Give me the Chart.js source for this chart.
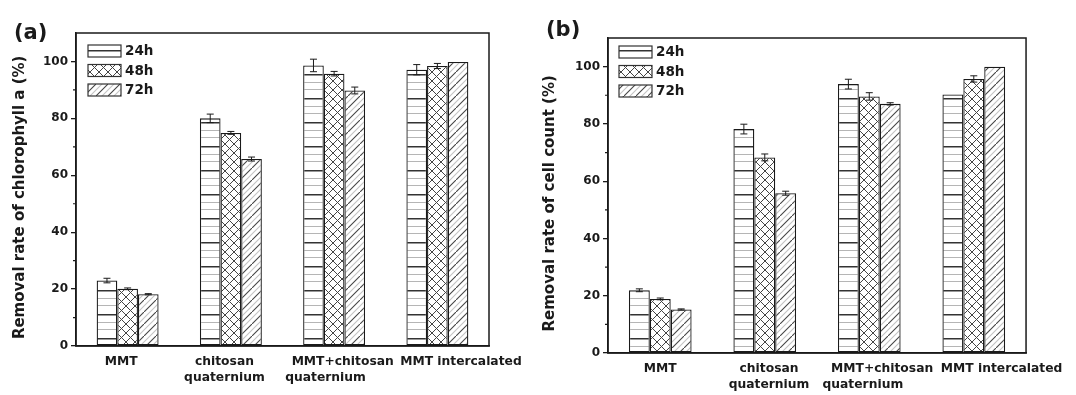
<!DOCTYPE html>
<html>
<head>
<meta charset="utf-8">
<script src="https://cdn.jsdelivr.net/npm/chart.js@4"></script>
<style>
  body { margin: 0; background: #fff; }
  #wrap { position: relative; width: 1076px; height: 395px; background: #fff; }
  canvas { position: absolute; top: 0; }
</style>
</head>
<body>
<div id="wrap">
  <canvas id="chartA" width="540" height="395" style="left:0"></canvas>
  <canvas id="chartB" width="536" height="395" style="left:540px"></canvas>
</div>
<script>
'use strict';

let categories = ['MMT', ['chitosan', 'quaternium'], ['MMT+chitosan', 'quaternium'], 'MMT intercalated'];
let seriesNames = ['24h', '48h', '72h'];
let yTicks = [0, 20, 40, 60, 80, 100];
let yMinorTicks = [10, 30, 50, 70, 90];

// (a) removal rate of chlorophyll a
let chlA24 = [23.0, 80.0, 98.6, 97.1];
let chlA48 = [20.1, 74.9, 95.7, 98.4];
let chlA72 = [18.2, 65.7, 89.8, 99.8];
let chlA24Err = [0.8, 1.5, 2.2, 1.8];
let chlA48Err = [0.3, 0.5, 0.8, 0.9];
let chlA72Err = [0.2, 0.7, 1.2, 0];

// (b) removal rate of cell count
let cell24 = [21.9, 78.2, 93.9, 90.3];
let cell48 = [18.9, 68.3, 89.6, 95.7];
let cell72 = [15.2, 55.8, 87.0, 100.0];
let cell24Err = [0.5, 1.7, 1.7, 0];
let cell48Err = [0.3, 1.2, 1.3, 1.1];
let cell72Err = [0.2, 0.7, 0.4, 0];

const FONT = "'DejaVu Sans', sans-serif";
const INK = '#1a1a1a';

function makePattern(kind) {
  let c = document.createElement('canvas');
  let x = c.getContext('2d');
  if (kind === 'h') {
    c.width = 8; c.height = 24;
    x.fillStyle = '#fff'; x.fillRect(0, 0, 8, 24);
    x.fillStyle = '#333'; x.fillRect(0, 2, 8, 1.5);
    x.fillStyle = '#b5b5b5'; x.fillRect(0, 10, 8, 1); x.fillRect(0, 17, 8, 1);
  } else if (kind === 'x') {
    c.width = 9; c.height = 9;
    x.fillStyle = '#fff'; x.fillRect(0, 0, 9, 9);
    x.strokeStyle = '#444'; x.lineWidth = 1;
    x.beginPath();
    x.moveTo(-1, -1); x.lineTo(10, 10);
    x.moveTo(10, -1); x.lineTo(-1, 10);
    x.stroke();
  } else {
    c.width = 12; c.height = 12;
    x.fillStyle = '#fff'; x.fillRect(0, 0, 12, 12);
    x.lineWidth = 1.1;
    x.strokeStyle = '#444';
    x.beginPath(); x.moveTo(-1, 13); x.lineTo(13, -1); x.stroke();
    x.strokeStyle = '#c4c4c4';
    x.beginPath(); x.moveTo(-1, 7); x.lineTo(7, -1); x.moveTo(5, 13); x.lineTo(13, 5); x.stroke();
  }
  return x.createPattern(c, 'repeat');
}

let fills = [makePattern('h'), makePattern('x'), makePattern('d')];

function pad(text, shift, perSpace) {
  // shift a centred text sideways with spaces
  let n = Math.round(Math.abs(shift) / (perSpace || 2.2));
  let sp = ' '.repeat(n);
  return shift > 0 ? sp + text : text + sp;
}

const panelPlugin = {
  id: 'panel',
  afterDatasetsDraw(chart) {
    let ctx = chart.ctx;
    let y = chart.scales.y;
    ctx.save();
    ctx.strokeStyle = INK;
    ctx.lineWidth = 1;
    chart.data.datasets.forEach((ds, di) => {
      chart.getDatasetMeta(di).data.forEach((bar, i) => {
        let e = ds.errors[i];
        if (!e) return;
        let top = y.getPixelForValue(ds.data[i] + e);
        let bot = y.getPixelForValue(ds.data[i] - e);
        ctx.beginPath();
        ctx.moveTo(bar.x, top); ctx.lineTo(bar.x, bot);
        ctx.moveTo(bar.x - 3.5, top); ctx.lineTo(bar.x + 3.5, top);
        ctx.moveTo(bar.x - 3.5, bot); ctx.lineTo(bar.x + 3.5, bot);
        ctx.stroke();
      });
    });
    ctx.restore();
  },
  afterDraw(chart, args, opts) {
    let ctx = chart.ctx;
    let a = chart.chartArea;
    let y = chart.scales.y;
    ctx.save();
    // plot frame
    ctx.strokeStyle = INK;
    ctx.lineWidth = 1.5;
    ctx.strokeRect(a.left, a.top, a.right - a.left, a.bottom - a.top);
    // minor ticks
    ctx.lineWidth = 1.2;
    ctx.beginPath();
    yMinorTicks.forEach(v => {
      let py = y.getPixelForValue(v);
      ctx.moveTo(a.left - 3, py); ctx.lineTo(a.left, py);
    });
    ctx.stroke();
    // legend inside the plot
    ctx.font = 'bold 13.5px ' + FONT;
    ctx.textBaseline = 'middle';
    ctx.textAlign = 'left';
    chart.data.datasets.forEach((ds, i) => {
      let bx = a.left + opts.legendX;
      let cy = a.top + opts.legendY + i * opts.legendGap;
      ctx.fillStyle = ds.backgroundColor;
      ctx.fillRect(bx, cy - 6, 33, 12);
      ctx.strokeStyle = '#333';
      ctx.lineWidth = 1.2;
      ctx.strokeRect(bx, cy - 6, 33, 12);
      ctx.fillStyle = INK;
      ctx.fillText(ds.label, bx + 37, cy + 0.5);
    });
    // panel tag
    ctx.font = 'bold 21px ' + FONT;
    ctx.textBaseline = 'alphabetic';
    ctx.fillText(opts.tag, opts.tagX, opts.tagY);
    ctx.restore();
  }
};

function makeChart(id, series, errors, yTitle, look) {
  let ctx = document.getElementById(id).getContext('2d');
  return new Chart(ctx, {
    type: 'bar',
    data: {
      labels: categories,
      datasets: seriesNames.map((name, i) => ({
        label: name,
        data: series[i],
        errors: errors[i],
        backgroundColor: fills[i],
        borderColor: INK,
        borderWidth: 1.3,
        borderSkipped: false,
        categoryPercentage: 0.6,
        barPercentage: 1.0
      }))
    },
    options: {
      responsive: false,
      animation: false,
      layout: { padding: { top: look.top, right: look.right, left: 0, bottom: 0 } },
      plugins: {
        legend: { display: false },
        tooltip: { enabled: false },
        panel: look
      },
      scales: {
        x: {
          grid: { display: false, drawTicks: false },
          border: { display: true, color: INK, width: 1.5 },
          afterFit: s => { s.height = look.xHeight; },
          ticks: {
            color: INK,
            padding: 7.5,
            maxRotation: 0,
            autoSkip: false,
            font: { family: FONT, weight: 'bold', size: 12.3, lineHeight: 1.32 },
            callback: (v, i) => {
              let lab = categories[i];
              let sh = look.labelShift[i];
              if (Array.isArray(lab)) return lab.map((t, k) => pad(t, sh[k]));
              return pad(lab, sh);
            }
          }
        },
        y: {
          min: 0,
          max: 110,
          afterBuildTicks: s => { s.ticks = yTicks.map(v => ({ value: v })); },
          afterFit: s => { s.width = look.yWidth; },
          grid: { display: true, drawOnChartArea: false, drawTicks: true, tickLength: 5, color: INK, lineWidth: 1.3 },
          border: { display: true, color: INK, width: 1.5 },
          ticks: {
            color: INK,
            padding: 3,
            font: { family: FONT, weight: 'bold', size: 12 }
          },
          title: {
            display: true,
            // text runs bottom to top; trailing spaces move it down
            text: pad(yTitle, -look.titleShift, 2.6),
            color: INK,
            padding: { top: look.titlePad, bottom: 0 },
            font: { family: FONT, weight: 'bold', size: 15 }
          }
        }
      }
    },
    plugins: [panelPlugin]
  });
}

makeChart('chartA',
  [chlA24, chlA48, chlA72],
  [chlA24Err, chlA48Err, chlA72Err],
  'Removal rate of chlorophyll a (%)',
  {
    top: 33, right: 51, yWidth: 76, xHeight: 49, titlePad: 11.5, titleShift: 9,
    legendX: 12, legendY: 18, legendGap: 19.5,
    tag: '(a)', tagX: 14, tagY: 38.5,
    labelShift: [-7, [-7, -7], [9, -8], 25]
  });

makeChart('chartB',
  [cell24, cell48, cell72],
  [cell24Err, cell48Err, cell72Err],
  'Removal rate of cell count (%)',
  {
    top: 38, right: 49, yWidth: 68, xHeight: 42, titlePad: 1.5, titleShift: 8,
    legendX: 11, legendY: 14, legendGap: 19.5,
    tag: '(b)', tagX: 6, tagY: 36,
    labelShift: [0, [4, 4], [13, -6], 29]
  });
</script>
</body>
</html>
